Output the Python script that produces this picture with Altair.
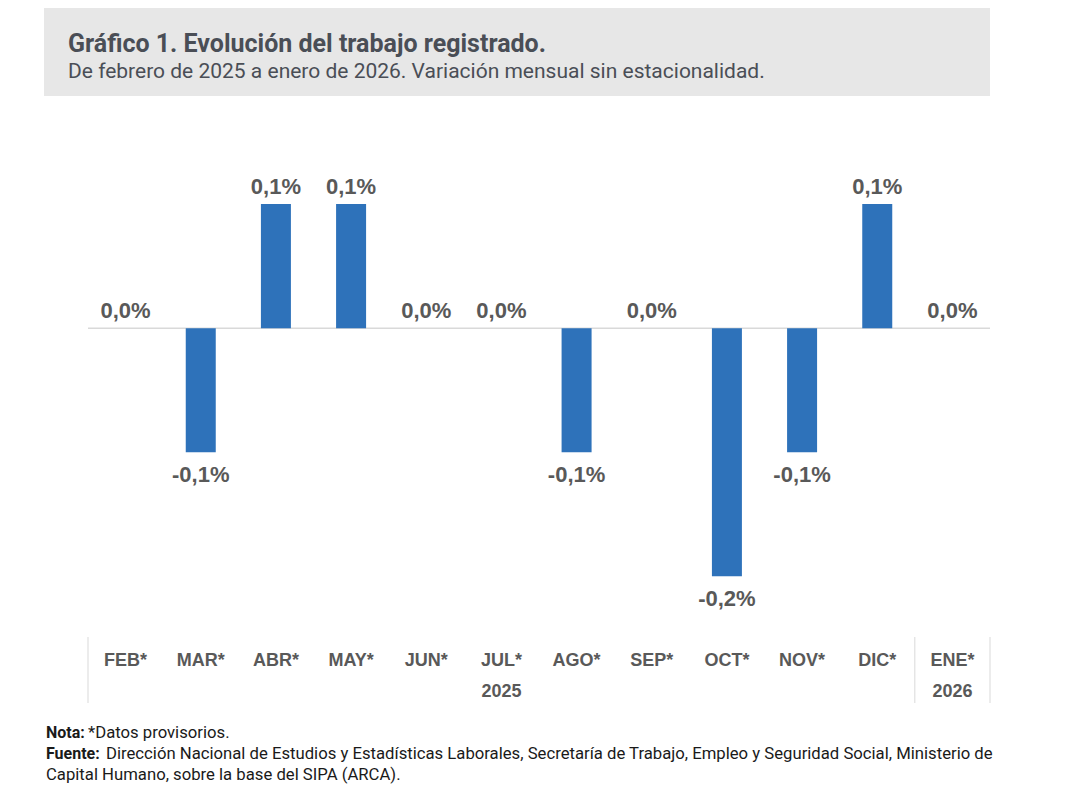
import altair as alt
import pandas as pd

meses = ["FEB*", "MAR*", "ABR*", "MAY*", "JUN*", "JUL*", "AGO*", "SEP*", "OCT*", "NOV*", "DIC*", "ENE*"]
valores = [0.0, -0.1, 0.1, 0.1, 0.0, 0.0, -0.1, 0.0, -0.2, -0.1, 0.1, 0.0]
anios = ["2025", "2026"]
anio_pos = ["JUL*", "ENE*"]

titulo = "Gráfico 1. Evolución del trabajo registrado."
subtitulo = "De febrero de 2025 a enero de 2026. Variación mensual sin estacionalidad."
nota_b = "Nota:"
nota_t = "*Datos provisorios."
fuente_b = "Fuente:"
fuente_t = "Dirección Nacional de Estudios y Estadísticas Laborales, Secretaría de Trabajo, Empleo y Seguridad Social, Ministerio de"
fuente_t2 = "Capital Humano, sobre la base del SIPA (ARCA)."

def fmt(v):
    return ("%.1f" % v).replace(".", ",") + "%"

df = pd.DataFrame({"mes": meses, "valor": valores, "etiqueta": [fmt(v) for v in valores]})
df_anio = pd.DataFrame({"mes": anio_pos, "anio": anios})
df_zero = pd.DataFrame({"v": [0.0]})

W, H = 902, 484
ROBOTO = "Roboto"
ARIAL = "Liberation Sans"
GRIS = "#595959"
TCOL = "#4a4e56"

xscale = alt.Scale(domain=meses, paddingInner=0, paddingOuter=0)
yscale = alt.Scale(domain=[-0.24, 0.15])

base = alt.Chart(df)

xenc = alt.X("mes:N", sort=meses, scale=xscale,
             axis=alt.Axis(title=None, labelAngle=0, domain=False, ticks=False, tickSize=0,
                           labelPadding=34, labelBaseline="middle", labelFont=ARIAL,
                           labelFontSize=18, labelFontWeight="bold", labelColor=GRIS))

def one(d):
    return alt.Chart(pd.DataFrame([d]))

header = one({"a": 1}).mark_rect(color="#e7e7e7").encode(
    x=alt.value(-44), x2=alt.value(902), y=alt.value(-134), y2=alt.value(-46))

t1 = one({"t": titulo}).mark_text(align="left", baseline="alphabetic", font=ROBOTO, fontSize=25,
                                   fontWeight="bold", color=TCOL).encode(
    x=alt.value(-20), y=alt.value(-90), text="t:N")
t2 = one({"t": subtitulo}).mark_text(align="left", baseline="alphabetic", font=ROBOTO, fontSize=21,
                                      color=TCOL).encode(
    x=alt.value(-20), y=alt.value(-64), text="t:N")

zero = alt.Chart(df_zero).mark_rule(color="#d9d9d9", strokeWidth=1.5).encode(
    y=alt.Y("v:Q", scale=yscale, axis=None), x=alt.value(0), x2=alt.value(W))

bars = base.mark_bar(width=30, color="#2E72BA").encode(
    x=xenc, y=alt.Y("valor:Q", scale=yscale, axis=None))

lab_pos = base.transform_filter("datum.valor >= 0").mark_text(
    dy=-10, baseline="alphabetic", font=ARIAL, fontSize=22, fontWeight="bold", color=GRIS).encode(
    x=alt.X("mes:N", sort=meses, scale=xscale), y=alt.Y("valor:Q", scale=yscale), text="etiqueta:N")
lab_neg = base.transform_filter("datum.valor < 0").mark_text(
    dy=30, baseline="alphabetic", font=ARIAL, fontSize=22, fontWeight="bold", color=GRIS).encode(
    x=alt.X("mes:N", sort=meses, scale=xscale), y=alt.Y("valor:Q", scale=yscale), text="etiqueta:N")

years = alt.Chart(df_anio).mark_text(baseline="middle", font=ARIAL, fontSize=18, fontWeight="bold",
                                     color=GRIS).encode(
    x=alt.X("mes:N", sort=meses, scale=xscale), y=alt.value(550), text="anio:N")

sep1 = alt.Chart(pd.DataFrame({"mes": ["FEB*", "ENE*"]})).mark_rule(color="#d9d9d9").encode(
    x=alt.X("mes:N", sort=meses, scale=xscale, bandPosition=0), y=alt.value(495), y2=alt.value(561))
sep2 = alt.Chart(pd.DataFrame({"mes": ["ENE*"]})).mark_rule(color="#d9d9d9").encode(
    x=alt.X("mes:N", sort=meses, scale=xscale, bandPosition=1), y=alt.value(495), y2=alt.value(561))

def note(txt, x, y, bold=False, size=16.7):
    return one({"t": txt}).mark_text(align="left", baseline="alphabetic", font=ROBOTO, fontSize=size,
                                      fontWeight="bold" if bold else "normal", color="#1a1a1a").encode(
        x=alt.value(x), y=alt.value(y), text="t:N")

notes = [note(nota_b, -42, 596, True, 16), note(nota_t, 0, 596),
         note(fuente_b, -42, 617, True, 16), note(fuente_t, 18, 617),
         note(fuente_t2, -42, 638)]

chart = alt.layer(header, t1, t2, zero, bars, lab_pos, lab_neg, years, sep1, sep2, *notes).properties(
    width=W, height=H,
    autosize=alt.AutoSizeParams(type="none"),
    padding={"left": 80, "top": 134, "right": 20, "bottom": 170},
    background="white",
).configure_view(stroke=None)

chart.save("out.html", embed_options={"renderer": "svg", "actions": False})
